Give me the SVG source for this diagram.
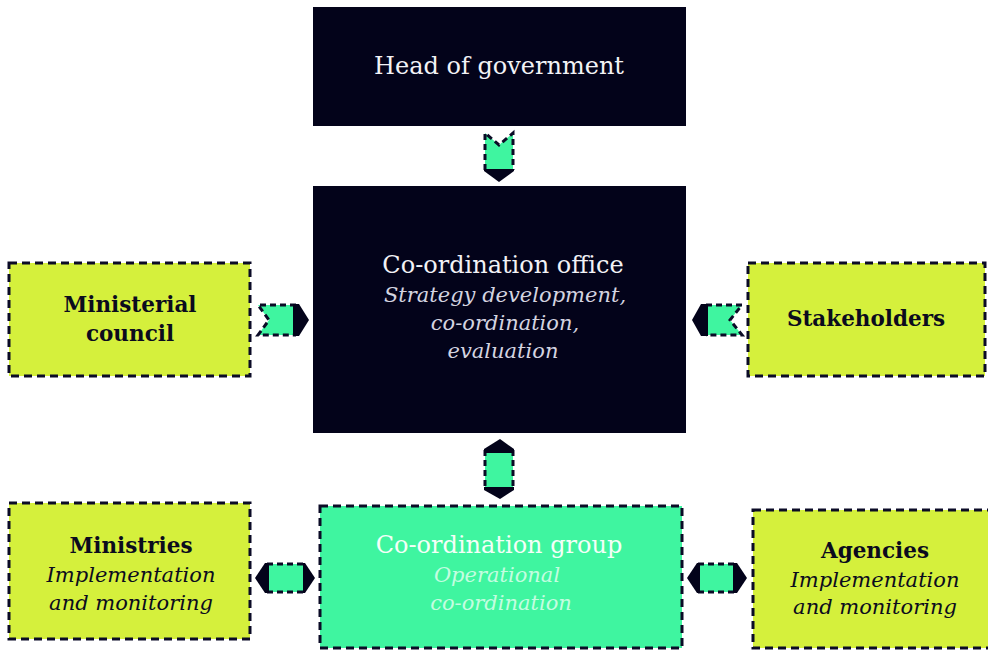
<svg xmlns="http://www.w3.org/2000/svg" width="988" height="650" viewBox="0 0 988 650">
<style>
.dark{fill:#03031a}
.yel{fill:#d5f03c;stroke:#0b0b26;stroke-width:3;stroke-dasharray:8 5}
.grn{fill:#3ff5a0;stroke:#0b0b26;stroke-width:3;stroke-dasharray:8 5}
.af{fill:#3ff5a0;stroke:none}
.ad{fill:none;stroke:#0b0b26;stroke-width:3;stroke-dasharray:6 4}
.ah{fill:#03031a}
text{font-family:"DejaVu Serif","Liberation Serif",serif;font-size:24px;text-anchor:middle}
.wt{fill:#f2f2f6}
.wi{fill:#d4d4e0;font-style:italic;font-size:21px}
.bt{fill:#0b0b1e;font-weight:bold;font-size:21.5px}
.bi{fill:#0b0b1e;font-style:italic;font-size:21px}
.gt{fill:#f4fff8}
.gi{fill:#c4fde0;font-style:italic;font-size:21px}
</style>
<rect width="988" height="650" fill="#ffffff"/>
<g id="connectors">
<g id="arrow-head-office">
<polygon class="af" points="485,133 499,145 513,133 513,170 485,170"/>
<polyline class="ad" points="485,170 485,133 499,145 513,133 513,170"/>
<polygon class="ah" points="484,169 514,169 514,171 499,182 484,171"/>
</g>
<g id="arrow-council-office">
<polygon class="af" points="258,305 296,305 296,335 258,335 269,320"/>
<polyline class="ad" points="296,305 258,305 269,320 258,335 296,335"/>
<polygon class="ah" points="293,304 299,304 309,320 299,336 293,336"/>
</g>
<g id="arrow-stakeholders-office">
<polygon class="af" points="706,305 742,305 730,320 742,335 706,335"/>
<polyline class="ad" points="706,305 742,305 730,320 742,335 706,335"/>
<polygon class="ah" points="692,320 701,304 708,304 708,336 701,336"/>
</g>
<g id="arrow-office-group">
<rect class="af" x="485" y="450" width="28" height="39"/>
<line class="ad" x1="485" y1="450" x2="485" y2="489"/>
<line class="ad" x1="513" y1="450" x2="513" y2="489"/>
<polygon class="ah" points="500,439 514,449 514,453 484,453 484,449"/>
<polygon class="ah" points="484,487 514,487 514,490 500,499 484,490"/>
</g>
<g id="arrow-group-ministries">
<rect class="af" x="267" y="564" width="38" height="28"/>
<line class="ad" x1="267" y1="564" x2="305" y2="564"/>
<line class="ad" x1="267" y1="592" x2="305" y2="592"/>
<polygon class="ah" points="255,578 265,563 269,563 269,593 265,593"/>
<polygon class="ah" points="315,578 305,563 303,563 303,593 305,593"/>
</g>
<g id="arrow-group-agencies">
<rect class="af" x="698" y="564" width="37" height="28"/>
<line class="ad" x1="698" y1="564" x2="735" y2="564"/>
<line class="ad" x1="698" y1="592" x2="735" y2="592"/>
<polygon class="ah" points="687,578 697,563 700,563 700,593 697,593"/>
<polygon class="ah" points="747,578 737,563 733,563 733,593 737,593"/>
</g>
</g>
<g id="head">
<rect class="dark" x="313" y="7" width="373" height="119"/>
<text class="wt" x="499" y="74">Head of government</text>
</g>
<g id="office">
<rect class="dark" x="313" y="186" width="373" height="247"/>
<text class="wt" x="503" y="273">Co-ordination office</text>
<text class="wi" x="505" y="302">Strategy development,</text>
<text class="wi" x="505" y="330">co-ordination,</text>
<text class="wi" x="503" y="358">evaluation</text>
</g>
<g id="council">
<rect class="yel" x="9" y="263" width="241" height="113"/>
<text class="bt" x="130" y="312">Ministerial</text>
<text class="bt" x="130" y="341">council</text>
</g>
<g id="stakeholders">
<rect class="yel" x="748" y="263" width="237" height="113"/>
<text class="bt" x="866" y="326">Stakeholders</text>
</g>
<g id="group">
<rect class="grn" x="320" y="506" width="362" height="142"/>
<text class="gt" x="499" y="553">Co-ordination group</text>
<text class="gi" x="497" y="582">Operational</text>
<text class="gi" x="501" y="610">co-ordination</text>
</g>
<g id="ministries">
<rect class="yel" x="9" y="503" width="241" height="136"/>
<text class="bt" x="131" y="553">Ministries</text>
<text class="bi" x="131" y="582">Implementation</text>
<text class="bi" x="131" y="610">and monitoring</text>
</g>
<g id="agencies">
<rect class="yel" x="753" y="510" width="240" height="138"/>
<text class="bt" x="875" y="558">Agencies</text>
<text class="bi" x="875" y="587">Implementation</text>
<text class="bi" x="875" y="614">and monitoring</text>
</g>
</svg>
